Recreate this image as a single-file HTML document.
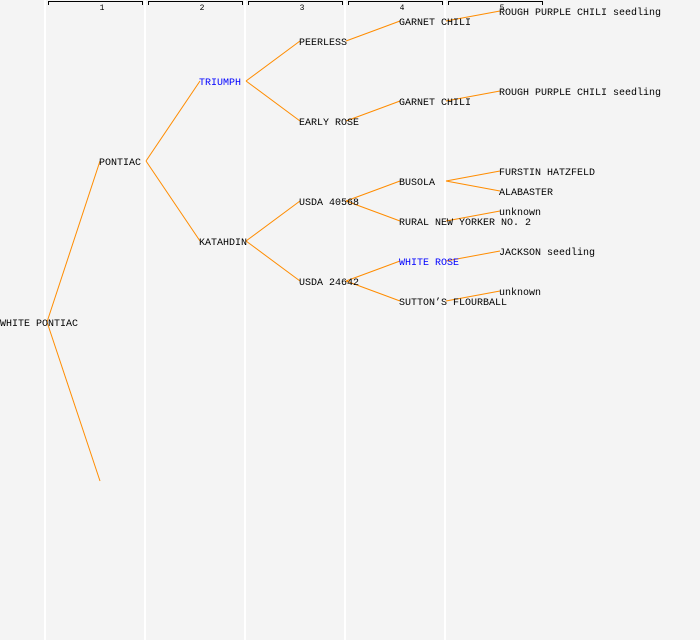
<!DOCTYPE html>
<html><head><style>body{margin:0;background:#f4f4f4}svg{display:block}</style></head><body>
<svg width="700" height="640" xmlns="http://www.w3.org/2000/svg" font-family="Liberation Mono, DejaVu Sans Mono, monospace" font-size="10">
<rect width="700" height="640" fill="#f4f4f4"/>
<g stroke="#fff" stroke-width="2">
<line x1="45" y1="0" x2="45" y2="640"/><line x1="145" y1="0" x2="145" y2="640"/><line x1="245" y1="0" x2="245" y2="640"/><line x1="345" y1="0" x2="345" y2="640"/><line x1="445" y1="0" x2="445" y2="640"/>
</g>
<g stroke="#000" fill="none" stroke-width="1">
<path d="M48.5 5V1.5H142.5V5"/><path d="M148.5 5V1.5H242.5V5"/><path d="M248.5 5V1.5H342.5V5"/><path d="M348.5 5V1.5H442.5V5"/><path d="M448.5 5V1.5H542.5V5"/>
</g>
<g font-size="8" text-anchor="middle" fill="#000">
<text x="102" y="10">1</text><text x="202" y="10">2</text><text x="302" y="10">3</text><text x="402" y="10">4</text><text x="502" y="10">5</text>
</g>
<g stroke="#ff8c00" stroke-width="1" fill="none">
<line x1="47" y1="322" x2="100" y2="161"/><line x1="47" y1="322" x2="100" y2="481"/>
<line x1="146" y1="161" x2="200" y2="81"/><line x1="146" y1="161" x2="200" y2="241"/>
<line x1="246" y1="81" x2="300" y2="41"/><line x1="246" y1="81" x2="300" y2="121"/>
<line x1="246" y1="241" x2="300" y2="201"/><line x1="246" y1="241" x2="300" y2="281"/>
<line x1="346" y1="41" x2="400" y2="21"/><line x1="346" y1="121" x2="400" y2="101"/>
<line x1="346" y1="201" x2="400" y2="181"/><line x1="346" y1="201" x2="400" y2="221"/>
<line x1="346" y1="281" x2="400" y2="261"/><line x1="346" y1="281" x2="400" y2="301"/>
<line x1="446" y1="21" x2="500" y2="11"/><line x1="446" y1="101" x2="500" y2="91"/>
<line x1="446" y1="181" x2="500" y2="171"/><line x1="446" y1="181" x2="500" y2="191"/>
<line x1="446" y1="221" x2="500" y2="211"/><line x1="446" y1="261" x2="500" y2="251"/>
<line x1="446" y1="301" x2="500" y2="291"/>
</g>
<g fill="#000">
<text x="0" y="326">WHITE PONTIAC</text>
<text x="99" y="165">PONTIAC</text>
<text x="199" y="85" fill="#0000ff">TRIUMPH</text>
<text x="199" y="245">KATAHDIN</text>
<text x="299" y="45">PEERLESS</text>
<text x="299" y="125">EARLY ROSE</text>
<text x="299" y="205">USDA 40568</text>
<text x="299" y="285">USDA 24642</text>
<text x="399" y="25">GARNET CHILI</text>
<text x="399" y="105">GARNET CHILI</text>
<text x="399" y="185">BUSOLA</text>
<text x="399" y="225">RURAL NEW YORKER NO. 2</text>
<text x="399" y="265" fill="#0000ff">WHITE ROSE</text>
<text x="399" y="305">SUTTON’S FLOURBALL</text>
<text x="499" y="15">ROUGH PURPLE CHILI seedling</text>
<text x="499" y="95">ROUGH PURPLE CHILI seedling</text>
<text x="499" y="175">FURSTIN HATZFELD</text>
<text x="499" y="195">ALABASTER</text>
<text x="499" y="215">unknown</text>
<text x="499" y="255">JACKSON seedling</text>
<text x="499" y="295">unknown</text>
</g>
</svg>
</body></html>
